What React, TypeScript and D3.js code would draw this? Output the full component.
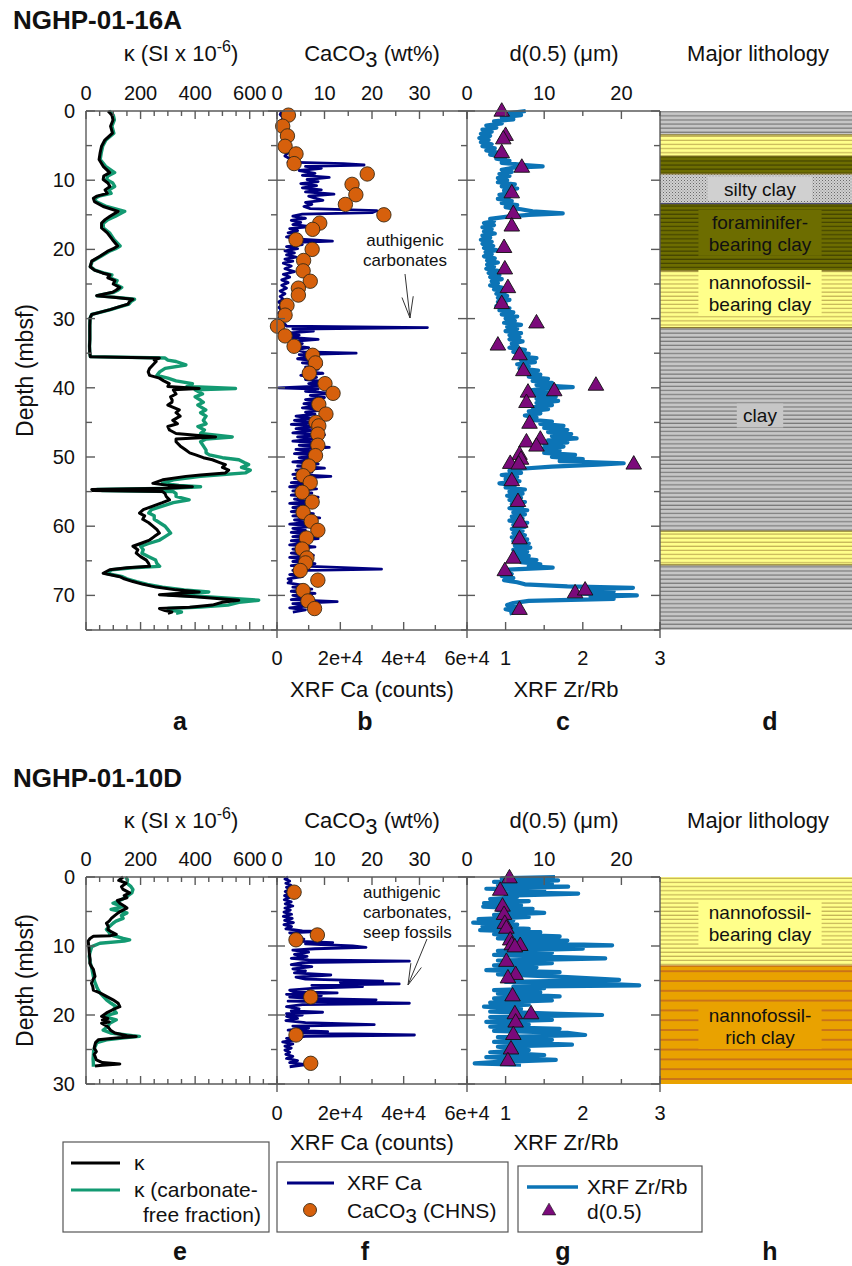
import React from 'react';
import * as d3 from 'd3';

const FONT = "'Liberation Sans', Arial, Helvetica, sans-serif";

// ---------------- DATA ----------------
// Site NGHP-01-16A : [depth (mbsf), value]
const kappa16A: [number, number][] = [
  [0,81],[0.6,95],[1.3,99],[2.2,90],[3.2,97],[4.2,69],[5.1,57],[6.0,52],[7.0,48],[8.0,63],[8.9,87],[9.4,65],[9.9,63],[10.4,80],[10.9,88],[11.4,70],[11.9,78],[12.3,40],[12.6,27],[13.1,31],[13.8,63],[14.5,118],[15.2,88],[15.7,70],[16.2,57],[16.9,57],[17.6,78],[18.6,97],[19.5,116],[19.9,100],[20.3,78],[21.0,51],[21.7,21],[22.5,15],[23.0,31],[23.4,60],[23.7,88],[24.1,80],[24.5,106],[25.0,100],[25.5,124],[25.9,110],[26.2,97],[26.5,60],[26.7,39],[26.9,100],[27.2,172],[27.5,160],[27.9,154],[28.3,120],[28.7,88],[29.1,50],[29.4,21],[29.9,15],[31.0,14],[32.0,14],[33.0,14],[34.0,13],[35.0,14],[35.5,16],[35.7,269],[36.0,250],[36.2,257],[36.7,245],[37.2,233],[37.7,228],[38.2,233],[38.6,269],[39.0,285],[39.4,305],[39.8,300],[40.1,415],[40.3,320],[40.9,330],[41.3,310],[41.8,316],[42.1,315],[42.5,300],[43.2,342],[43.6,330],[44.1,345],[44.7,318],[45.2,335],[45.6,300],[46.1,306],[46.6,330],[47.1,475],[47.4,330],[47.8,330],[48.4,345],[49.0,366],[49.4,380],[49.7,402],[50.1,430],[50.4,463],[50.8,490],[51.1,511],[51.5,500],[51.9,523],[52.3,511],[52.6,420],[52.8,366],[53.3,281],[53.8,245],[54.1,300],[54.3,390],[54.5,300],[54.7,21],[54.85,25],[55.0,281],[55.3,290],[55.7,294],[56.2,306],[56.6,280],[57.1,245],[57.6,210],[58.1,196],[58.5,215],[59.0,208],[59.5,230],[60.0,245],[60.5,260],[61.0,269],[61.5,250],[62.0,233],[62.5,200],[62.9,172],[63.4,190],[63.9,184],[64.4,200],[64.9,221],[65.4,230],[65.8,233],[66.0,150],[66.3,87],[66.8,63],[67.3,124],[67.6,140],[68.0,172],[68.4,210],[68.8,257],[69.2,330],[69.5,415],[69.9,269],[70.2,400],[70.7,560],[71.0,500],[71.4,463],[71.7,380],[71.9,269],[72.2,290],[72.4,315],[72.6,300]
];
const kappaCF16A: [number, number][] = [
  [0,85],[0.6,100],[1.3,104],[2.2,95],[3.2,102],[4.2,73],[5.1,61],[6.0,56],[7.0,52],[8.0,72],[8.9,105],[9.4,80],[9.9,75],[10.4,98],[10.9,105],[11.4,84],[11.9,92],[12.3,48],[12.6,33],[13.1,37],[13.8,75],[14.5,142],[15.2,108],[15.7,80],[16.2,64],[16.9,63],[17.6,86],[18.6,103],[19.5,125],[19.9,108],[20.3,84],[21.0,55],[21.7,23],[22.5,16],[23.0,33],[23.4,64],[23.7,95],[24.1,87],[24.5,114],[25.0,106],[25.5,131],[25.9,116],[26.2,102],[26.5,63],[26.7,41],[26.9,104],[27.2,178],[27.5,166],[27.9,158],[28.3,123],[28.7,90],[29.1,51],[29.4,21],[29.9,15],[31.0,14],[32.0,14],[33.0,14],[34.0,13],[35.0,14],[35.5,16],[35.7,290],[36.0,300],[36.2,330],[36.7,366],[37.2,290],[37.7,270],[38.2,260],[38.6,300],[39.0,330],[39.4,390],[39.8,370],[40.1,548],[40.3,400],[40.9,427],[41.3,400],[41.8,420],[42.1,430],[42.5,410],[43.2,439],[43.6,420],[44.1,440],[44.7,430],[45.2,440],[45.6,410],[46.1,434],[46.6,420],[47.1,536],[47.4,440],[47.8,420],[48.4,430],[49.0,440],[49.4,440],[49.7,452],[50.1,500],[50.4,560],[50.8,580],[51.1,596],[51.5,570],[51.9,602],[52.3,584],[52.6,480],[52.8,420],[53.3,320],[53.8,280],[54.1,340],[54.3,420],[54.5,330],[54.7,40],[54.85,60],[55.0,320],[55.3,330],[55.7,330],[56.2,378],[56.6,320],[57.1,280],[57.6,240],[58.1,230],[58.5,250],[59.0,250],[59.5,270],[60.0,290],[60.5,300],[61.0,310],[61.5,290],[62.0,270],[62.5,230],[62.9,200],[63.4,210],[63.9,205],[64.4,230],[64.9,255],[65.4,260],[65.8,270],[66.0,170],[66.3,95],[66.8,72],[67.3,134],[67.6,150],[68.0,185],[68.4,225],[68.8,280],[69.2,360],[69.5,450],[69.9,300],[70.2,440],[70.7,633],[71.0,560],[71.4,520],[71.7,420],[71.9,300],[72.2,320],[72.4,350],[72.6,330]
];
const xrfCa16A: [number, number][] = [
  [0.0,1500],[0.5,1000],[1.0,2000],[1.5,1200],[2.0,1800],[2.5,1000],[3.0,2200],[3.5,1500],[4.0,2500],[4.5,1800],[5.0,3000],[5.5,2200],[6.0,3500],[6.5,2500],[7.0,4500],[7.4,3500],[7.6,21000],[7.8,27500],[8.0,9000],[8.3,14000],[8.6,7000],[9.0,12000],[9.3,8000],[9.6,16500],[9.9,9500],[10.2,13000],[10.5,7500],[10.8,12500],[11.1,8000],[11.4,14000],[11.7,9000],[12.0,18000],[12.3,10000],[12.6,12000],[12.9,14500],[13.2,9000],[13.5,11000],[13.8,8500],[14.1,10500],[14.4,31500],[14.7,30000],[14.9,8000],[15.2,5000],[15.5,9000],[15.8,4500],[16.1,7500],[16.4,5000],[16.7,10500],[17.0,4000],[17.3,6500],[17.6,3500],[17.9,7000],[18.2,3000],[18.5,6000],[18.8,17500],[19.0,4500],[19.3,8000],[19.6,3000],[19.9,6500],[20.2,2500],[20.5,5500],[20.8,3000],[21.1,6000],[21.4,2500],[21.7,5000],[22.0,2000],[22.4,4500],[22.8,2500],[23.2,5500],[23.6,2000],[24.0,4000],[24.4,1500],[24.8,3500],[25.2,1500],[25.6,3000],[26.0,1000],[26.4,2500],[26.8,1000],[27.2,2000],[27.6,500],[28.0,1500],[28.4,600],[28.8,1500],[29.2,500],[29.6,1200],[30.0,400],[30.4,1000],[30.8,2500],[31.1,3000],[31.3,47500],[31.5,5000],[31.8,11500],[32.1,3000],[32.4,7000],[32.7,4000],[33.0,13000],[33.3,5000],[33.6,8000],[33.9,4500],[34.2,10000],[34.5,6000],[34.8,8500],[35.0,25000],[35.2,7000],[35.5,11000],[35.8,6500],[36.1,12000],[36.4,8000],[36.7,14000],[37.0,9000],[37.3,13000],[37.6,8500],[37.9,14500],[38.2,7500],[38.5,12500],[38.8,9000],[39.1,15000],[39.4,10000],[39.7,16500],[40.0,500],[40.2,13000],[40.5,9000],[40.8,17000],[41.1,10500],[41.4,15000],[41.7,9000],[42.0,14000],[42.3,8500],[42.6,13000],[42.9,8000],[43.2,15000],[43.5,9000],[43.8,12000],[44.1,6000],[44.4,11000],[44.7,5500],[45.0,12000],[45.3,4500],[45.6,13500],[45.9,6000],[46.2,11000],[46.5,5000],[46.8,15000],[47.1,6500],[47.4,12000],[47.7,5000],[48.0,14000],[48.3,7000],[48.6,16500],[48.9,6000],[49.2,12000],[49.5,5500],[49.8,14000],[50.1,7000],[50.4,11500],[50.7,5000],[51.0,13000],[51.3,6500],[51.6,15000],[51.9,6000],[52.2,11000],[52.5,5000],[52.8,17000],[53.1,5500],[53.4,12000],[53.7,4500],[54.0,10500],[54.3,4000],[54.6,12500],[54.9,5000],[55.2,11000],[55.5,4500],[55.8,13000],[56.1,5500],[56.4,10000],[56.7,4000],[57.0,12000],[57.3,5000],[57.6,9500],[57.9,4500],[58.2,11500],[58.5,5000],[58.8,13500],[59.1,5500],[59.4,10000],[59.7,4000],[60.0,12500],[60.3,5000],[60.6,9000],[60.9,4500],[61.2,11000],[61.5,5000],[61.8,13000],[62.1,4500],[62.4,10000],[62.7,4000],[63.0,12000],[63.3,5000],[63.6,9500],[63.9,4500],[64.2,11500],[64.5,4000],[64.8,10000],[65.1,5000],[65.4,12000],[65.7,4500],[66.0,21000],[66.2,33000],[66.4,5000],[66.7,9000],[67.0,4000],[67.3,8000],[67.6,3500],[67.9,4500],[68.2,3500],[68.5,8000],[68.8,5000],[69.1,11000],[69.4,4500],[69.7,12000],[70.0,5000],[70.3,9500],[70.6,4500],[70.9,19000],[71.2,5000],[71.5,10000],[71.8,4000],[72.1,9000],[72.4,5000]
];
const caco316A: [number, number][] = [
  [0.6,2.4],[2.2,1.2],[3.6,2.2],[5.1,1.7],[6.2,4.0],[7.6,3.6],[9.1,19.0],[10.6,15.8],[12.1,16.6],[13.5,14.4],[15.0,22.5],[16.2,9.0],[17.1,7.5],[18.6,4.0],[20.0,7.4],[21.6,5.6],[23.1,5.5],[24.6,7.0],[25.6,4.5],[26.6,4.5],[28.1,2.1],[29.5,1.7],[31.1,0.1],[32.5,1.7],[34.0,3.6],[35.3,7.5],[36.4,8.1],[37.9,6.8],[39.4,10.1],[40.8,11.8],[42.4,8.8],[43.8,10.3],[45.0,8.2],[45.5,8.8],[46.7,8.6],[48.3,8.6],[49.8,8.1],[51.3,6.7],[52.7,5.5],[53.7,7.0],[55.1,5.3],[56.5,7.4],[58.0,5.5],[59.3,7.2],[60.6,8.6],[61.7,6.2],[63.3,5.3],[64.6,6.3],[65.3,6.0],[66.4,4.9],[67.8,8.6],[69.3,5.5],[70.8,6.5],[71.9,7.9]
];
const zrRb16A: [number, number][] = [
  [0.0,1.26],[0.3,1.05],[0.6,1.2],[0.9,0.95],[1.2,1.1],[1.5,0.85],[1.8,0.95],[2.1,0.75],[2.4,0.88],[2.7,0.7],[3.0,0.82],[3.3,0.68],[3.6,0.8],[3.9,0.66],[4.2,0.78],[4.5,0.68],[4.8,0.82],[5.1,0.7],[5.4,0.86],[5.7,0.75],[6.0,0.9],[6.3,0.8],[6.6,1.0],[6.9,0.88],[7.2,1.05],[7.5,0.95],[7.8,1.25],[8.0,1.48],[8.2,1.1],[8.5,0.95],[8.8,1.08],[9.1,0.92],[9.4,1.05],[9.7,0.9],[10.0,1.02],[10.3,0.9],[10.6,1.12],[10.9,0.95],[11.2,1.15],[11.5,0.98],[11.8,1.1],[12.1,0.92],[12.4,1.05],[12.7,0.9],[13.0,1.08],[13.3,0.95],[13.6,1.15],[13.9,1.0],[14.2,1.2],[14.5,1.35],[14.8,1.74],[15.0,1.3],[15.3,1.0],[15.6,0.8],[15.9,0.85],[16.2,0.72],[16.5,0.85],[16.8,0.7],[17.1,0.82],[17.4,0.72],[17.7,0.86],[18.0,0.7],[18.3,0.8],[18.6,0.68],[18.9,0.82],[19.2,0.7],[19.5,0.84],[19.8,0.72],[20.1,0.88],[20.4,0.74],[20.7,0.82],[21.0,0.72],[21.3,0.86],[21.6,0.76],[21.9,0.9],[22.2,0.76],[22.5,0.85],[22.8,0.75],[23.1,0.9],[23.4,0.78],[23.7,0.92],[24.0,0.8],[24.3,0.95],[24.6,0.82],[24.9,0.9],[25.2,0.8],[25.5,0.95],[25.8,0.85],[26.1,1.0],[26.4,0.88],[26.7,1.02],[27.0,0.9],[27.3,1.05],[27.6,0.9],[27.9,1.0],[28.2,0.88],[28.5,1.05],[28.8,0.92],[29.1,1.1],[29.4,0.95],[29.7,1.15],[30.0,1.0],[30.3,1.12],[30.6,0.98],[30.9,1.2],[31.2,1.02],[31.5,1.15],[31.8,1.0],[32.1,1.2],[32.4,1.05],[32.7,1.18],[33.0,1.05],[33.3,1.22],[33.6,1.08],[33.9,1.15],[34.2,1.05],[34.5,1.25],[34.8,1.1],[35.1,1.3],[35.4,1.15],[35.7,1.4],[36.0,1.2],[36.3,1.38],[36.6,1.15],[36.9,1.3],[37.2,1.18],[37.5,1.42],[37.8,1.25],[38.1,1.45],[38.4,1.3],[38.7,1.55],[39.0,1.35],[39.3,1.6],[39.6,1.4],[39.9,1.87],[40.1,1.5],[40.4,1.3],[40.7,1.6],[41.0,1.35],[41.3,1.65],[41.6,1.4],[41.9,1.68],[42.2,1.4],[42.5,1.6],[42.8,1.35],[43.1,1.55],[43.4,1.3],[43.7,1.45],[44.0,1.25],[44.3,1.4],[44.6,1.3],[44.9,1.6],[45.2,1.45],[45.5,1.75],[45.8,1.5],[46.1,1.8],[46.4,1.55],[46.7,1.85],[47.0,1.6],[47.3,1.92],[47.6,1.55],[47.9,1.8],[48.2,1.5],[48.5,1.75],[48.8,1.45],[49.1,1.7],[49.4,1.5],[49.7,1.9],[50.0,1.6],[50.3,2.0],[50.6,1.7],[50.9,2.53],[51.1,2.2],[51.4,1.6],[51.7,1.2],[52.0,1.05],[52.3,1.2],[52.6,0.95],[52.9,1.15],[53.2,1.0],[53.5,1.18],[53.8,0.92],[54.1,1.12],[54.4,1.0],[54.7,1.25],[55.0,1.05],[55.3,1.22],[55.6,1.02],[55.9,1.2],[56.2,1.05],[56.5,1.25],[56.8,1.08],[57.1,1.22],[57.4,1.05],[57.7,1.28],[58.0,1.1],[58.3,1.25],[58.6,1.08],[58.9,1.22],[59.2,1.05],[59.5,1.28],[59.8,1.1],[60.1,1.25],[60.4,1.08],[60.7,1.22],[61.0,1.1],[61.3,1.25],[61.6,1.08],[61.9,1.28],[62.2,1.1],[62.5,1.3],[62.8,1.12],[63.1,1.32],[63.4,1.1],[63.7,1.28],[64.0,1.1],[64.3,1.3],[64.6,1.15],[64.9,1.4],[65.2,1.2],[65.5,1.45],[65.8,1.3],[66.0,1.61],[66.3,1.0],[66.6,0.95],[66.9,1.08],[67.2,0.95],[67.5,1.1],[67.8,0.98],[68.1,1.15],[68.4,1.25],[68.7,1.8],[68.9,2.65],[69.1,2.0],[69.4,2.4],[69.7,1.9],[70.0,2.7],[70.2,2.1],[70.5,2.4],[70.8,1.3],[71.1,1.1],[71.4,1.02],[71.7,1.15],[72.0,1.0],[72.3,1.15],[72.6,1.05]
];
const d5016A: [number, number][] = [
  [0.1,4.5],[3.6,5.0],[4.1,4.7],[6.1,4.5],[8.2,7.1],[11.9,5.8],[14.9,6.0],[16.7,5.8],[19.8,4.8],[22.9,4.9],[25.6,5.3],[27.9,4.5],[30.7,9.0],[33.9,4.0],[35.3,6.8],[37.6,7.3],[39.7,16.7],[40.5,11.3],[40.7,7.9],[42.2,7.7],[45.2,8.1],[47.5,9.5],[47.9,7.7],[48.5,9.0],[49.7,6.8],[50.4,7.0],[51.0,5.6],[51.1,6.7],[51.1,21.6],[53.5,5.8],[56.5,6.6],[59.5,6.9],[61.9,6.8],[64.7,6.0],[66.5,4.9],[69.7,14.0],[69.3,15.3],[72.1,6.8]
];

// Site NGHP-01-10D
const kappa10D: [number, number][] = [
  [0.0,136],[0.5,120],[0.9,147],[1.4,130],[1.8,136],[2.3,160],[2.7,140],[3.0,150],[3.4,115],[3.8,124],[4.2,140],[4.5,150],[4.9,130],[5.2,118],[5.6,105],[6.0,93],[6.4,85],[6.7,75],[7.2,82],[7.6,80],[8.0,95],[8.3,111],[8.5,90],[8.6,27],[8.9,15],[9.3,8],[10.0,10],[11.0,12],[12.0,15],[12.5,14],[13.0,20],[13.4,27],[13.9,30],[14.4,33],[14.9,25],[15.4,20],[15.9,25],[16.4,27],[16.8,51],[17.3,75],[17.8,99],[18.3,118],[18.8,124],[19.2,100],[19.7,75],[20.2,57],[20.5,80],[20.7,60],[21.0,85],[21.2,57],[21.7,80],[22.2,90],[22.6,106],[23.0,150],[23.1,184],[23.3,120],[23.6,45],[24.0,35],[24.3,33],[24.8,30],[25.3,38],[25.7,30],[26.0,33],[26.5,38],[26.9,60],[27.1,124],[27.3,60],[27.4,33]
];
const kappaCF10D: [number, number][] = [
  [0.0,145],[0.4,152],[0.9,150],[1.4,165],[1.8,172],[2.3,168],[2.8,150],[3.3,130],[3.8,99],[4.3,136],[4.7,92],[5.2,150],[5.6,130],[6.0,136],[6.4,110],[6.7,99],[7.2,85],[7.6,75],[8.0,85],[8.4,87],[8.7,120],[8.9,136],[9.1,160],[9.3,140],[9.6,51],[10.1,21],[11.0,14],[11.5,12],[12.5,16],[13.0,20],[13.8,24],[14.4,27],[15.2,32],[15.9,39],[16.4,45],[16.8,51],[17.3,63],[17.8,75],[18.3,92],[18.8,111],[19.2,100],[19.7,111],[20.2,63],[20.7,111],[21.2,87],[21.7,80],[22.2,63],[22.6,90],[23.0,170],[23.1,196],[23.3,140],[23.6,75],[24.0,40],[24.6,33],[25.2,28],[25.8,27],[26.4,26],[27.0,27],[27.5,27]
];
const xrfCa10D: [number, number][] = [
  [0.0,3500],[0.3,2500],[0.6,4000],[0.9,2800],[1.2,4400],[1.5,3000],[1.8,4200],[2.1,2600],[2.4,4000],[2.7,2400],[3.0,3800],[3.3,2300],[3.6,4500],[3.9,2600],[4.2,5000],[4.5,2500],[4.8,4200],[5.1,2200],[5.4,4600],[5.7,2000],[6.0,4800],[6.3,2400],[6.6,5200],[6.9,2200],[7.2,4600],[7.5,2800],[7.8,8000],[7.9,12300],[8.1,4000],[8.4,7000],[8.7,4500],[9.0,8500],[9.3,5500],[9.5,17600],[9.7,9000],[10.0,23900],[10.2,28100],[10.4,12000],[10.6,5000],[10.9,10000],[11.2,5500],[11.5,9500],[11.8,4500],[12.0,10000],[12.2,41800],[12.4,8000],[12.7,4500],[13.0,11000],[13.3,5000],[13.6,9000],[13.9,5500],[14.2,17000],[14.5,6000],[14.8,9000],[15.1,33400],[15.3,20000],[15.5,38600],[15.7,11000],[15.9,27000],[16.1,12000],[16.4,4000],[16.6,5000],[16.8,19000],[17.0,3000],[17.2,14000],[17.4,4000],[17.6,10000],[17.8,31300],[18.0,3500],[18.3,41800],[18.5,8000],[18.8,3000],[19.1,7000],[19.4,4500],[19.6,14400],[19.8,3000],[20.0,8000],[20.2,3000],[20.5,6500],[20.8,2800],[21.1,9000],[21.4,30700],[21.6,5000],[21.9,10000],[22.2,3500],[22.4,16000],[22.6,4500],[22.9,43400],[23.1,9000],[23.4,3000],[23.6,6000],[23.9,1800],[24.2,5000],[24.5,2500],[24.8,4500],[25.1,2500],[25.4,4000],[25.7,2800],[26.0,5000],[26.3,3000],[26.6,6500],[26.9,4000],[27.2,9200],[27.5,4000]
];
const caco310D: [number, number][] = [
  [2.2,3.6],[8.4,8.5],[9.1,4.0],[17.4,7.1],[22.9,4.0],[27.0,7.1]
];
const zrRb10D: [number, number][] = [
  [0.0,1.64],[0.2,0.95],[0.5,1.68],[0.7,0.85],[1.0,1.6],[1.2,0.9],[1.4,1.81],[1.7,0.75],[1.9,1.5],[2.2,0.9],[2.4,1.94],[2.7,1.0],[2.9,1.15],[3.2,0.8],[3.5,1.3],[3.8,0.72],[4.1,1.2],[4.3,0.71],[4.6,1.35],[4.8,0.9],[5.2,1.5],[5.5,0.85],[5.8,1.3],[6.1,0.65],[6.3,1.1],[6.6,0.58],[6.9,1.15],[7.2,0.7],[7.5,1.3],[7.7,0.67],[8.0,1.45],[8.3,0.85],[8.6,1.7],[8.9,0.9],[9.2,1.8],[9.5,1.0],[9.9,2.38],[10.1,1.1],[10.4,2.0],[10.7,0.9],[11.0,1.6],[11.3,0.85],[11.6,1.7],[11.8,2.29],[12.1,0.9],[12.5,1.6],[12.8,0.85],[13.1,1.4],[13.5,0.75],[13.8,1.7],[14.1,0.9],[14.5,1.8],[14.9,2.47],[15.2,1.0],[15.5,2.3],[15.7,2.73],[15.9,1.1],[16.1,1.5],[16.4,0.85],[16.7,1.45],[16.9,0.9],[17.3,1.7],[17.6,0.85],[17.9,1.6],[18.2,0.8],[18.5,1.3],[18.8,0.72],[19.1,1.2],[19.5,0.8],[19.8,1.6],[20.0,2.25],[20.3,0.8],[20.7,1.6],[21.0,0.75],[21.4,1.3],[21.7,0.8],[22.0,1.7],[22.3,0.85],[22.6,1.8],[22.9,2.03],[23.2,0.9],[23.6,1.6],[23.9,0.85],[24.3,1.86],[24.6,0.9],[25.1,1.3],[25.4,0.8],[25.8,1.5],[26.1,0.75],[26.5,1.65],[26.8,0.9],[27.0,0.6],[27.2,1.2]
];
const d5010D: [number, number][] = [
  [0.2,5.5],[2.0,4.3],[4.3,4.6],[5.5,4.8],[6.8,4.9],[7.5,5.1],[9.2,5.6],[9.9,5.8],[10.0,6.9],[10.2,6.2],[12.3,5.1],[14.2,6.3],[14.7,5.3],[17.3,5.9],[19.9,6.2],[19.9,8.3],[21.1,6.3],[22.9,6.0],[25.0,5.7],[26.7,5.3]
];

// Lithology intervals [top, bottom, type]
const litho16A: [number, number, string][] = [
  [0, 3.45, 'clay'], [3.45, 6.5, 'nanno'], [6.5, 9.1, 'foram'], [9.1, 13.4, 'silty'],
  [13.4, 23.1, 'foram'], [23.1, 31.3, 'nanno'], [31.3, 60.7, 'clay'], [60.7, 65.6, 'nanno'], [65.6, 75, 'clay']
];
const lithoLabels16A: [number, string[], string][] = [
  [11.25, ['silty clay'], 'silty'], [17.6, ['foraminifer-', 'bearing clay'], 'foram'],
  [26.3, ['nannofossil-', 'bearing clay'], 'nanno'], [44.0, ['clay'], 'clay']
];
const litho10D: [number, number, string][] = [[0, 12.9, 'nanno'], [12.9, 30, 'rich']];
const lithoLabels10D: [number, string[], string][] = [
  [6.7, ['nannofossil-', 'bearing clay'], 'nanno'], [21.6, ['nannofossil-', 'rich clay'], 'rich']
];

// Tick labels
const kappaTickLabels = [0, 200, 400, 600];
const caco3TickLabels = [0, 10, 20, 30];
const d50TickLabels = [0, 10, 20];
const caTickValues = [0, 20000, 40000, 60000];
const caTickLabels = ['0', '2e+4', '4e+4', '6e+4'];
const zrTickLabels = [1, 2, 3];

// ---------------- STYLE ----------------
const C = {
  axis: '#5a5a5a', kappa: '#000000', kappaCF: '#139a72', ca: '#000080',
  caco3: '#d6600c', zr: '#0c74b6', d50: '#7b0a7b'
};
const LITHO: Record<string, { fill: string; line: string }> = {
  clay: { fill: '#c6c6c6', line: '#6a6a6a' },
  nanno: { fill: '#ffff8a', line: '#b8a24c' },
  foram: { fill: '#6d6d00', line: '#3a3a00' },
  silty: { fill: '#d0d0d0', line: '#6a6a6a' },
  rich: { fill: '#e9a200', line: '#b24e2a' },
};

const XA: [number, number] = [86, 277];
const XB: [number, number] = [277, 467];
const XC: [number, number] = [467, 660];
const XD: [number, number] = [660, 852];

const kapX = d3.scaleLinear().domain([0, 700]).range(XA);
const caco3X = d3.scaleLinear().domain([0, 40]).range(XB);
const caX = d3.scaleLinear().domain([0, 60000]).range(XB);
const d50X = d3.scaleLinear().domain([0, 25]).range(XC);
const zrX = d3.scaleLinear().domain([0.5, 3]).range(XC);

type SectionProps = {
  id: string; header: string; headerY: number; titleY: number; topTickY: number;
  y0: number; y1: number; maxDepth: number; botTickY: number; xlabelY: number; letterY: number;
  letters: string[];
  kappa: [number, number][]; kappaCF: [number, number][]; ca: [number, number][];
  caco3: [number, number][]; zr: [number, number][]; d50: [number, number][];
  litho: [number, number, string][]; lithoLabels: [number, string[], string][];
  note: { lines: string[]; x: number; y: number; anchor: string; arrow: [number, number, number, number] };
};

function Section(p: SectionProps) {
  const y = d3.scaleLinear().domain([0, p.maxDepth]).range([p.y0, p.y1]);
  const mk = (xs: d3.ScaleLinear<number, number>) =>
    d3.line<[number, number]>().x(d => xs(d[1])).y(d => y(d[0]));
  const dTicks = d3.range(0, p.maxDepth + 0.01, 5);
  const els: React.ReactNode[] = [];
  const ax = { stroke: C.axis, strokeWidth: 1.4 };

  // lithology
  p.litho.forEach(([t, b, k], i) => {
    els.push(<rect key={'lf' + i} x={XD[0]} y={y(t)} width={XD[1] - XD[0]} height={y(b) - y(t)}
      fill={`url(#pat-${k})`} />);
  });
  p.litho.forEach(([t, b, k], i) => {
    if (i > 0) els.push(<line key={'lb' + i} x1={XD[0]} x2={XD[1]} y1={y(t)} y2={y(t)}
      stroke={k === 'rich' ? '#b04a20' : (k === 'foram' && p.litho[i - 1][2] === 'silty') ? '#2a2a6a' : '#8a7a30'} strokeWidth={1.2} />);
  });
  p.lithoLabels.forEach(([dep, lines, k], i) => {
    const yc = y(dep);
    const lh = 22;
    const w = Math.max(...lines.map(s => s.length)) * 9.6 + 8;
    const h = lines.length * lh + 2;
    const cx = 760;
    els.push(<rect key={'lr' + i} x={cx - w / 2} y={yc - h / 2} width={w} height={h} fill={LITHO[k].fill} />);
    lines.forEach((s, j) => {
      els.push(<text key={'lt' + i + '_' + j} x={cx} y={yc - (lines.length - 1) * lh / 2 + j * lh + 7}
        textAnchor="middle" fontSize={19} fill="#111">{s}</text>);
    });
  });

  // data
  els.push(<path key="kcf" d={mk(kapX)(p.kappaCF) || ''} fill="none" stroke={C.kappaCF} strokeWidth={3.4} strokeLinejoin="round" />);
  els.push(<path key="k" d={mk(kapX)(p.kappa) || ''} fill="none" stroke={C.kappa} strokeWidth={3} strokeLinejoin="round" />);
  els.push(<path key="ca" d={mk(caX)(p.ca) || ''} fill="none" stroke={C.ca} strokeWidth={2.8} strokeLinejoin="round" />);
  els.push(<path key="zr" d={mk(zrX)(p.zr) || ''} fill="none" stroke={C.zr} strokeWidth={4.2} strokeLinejoin="round" />);
  p.caco3.forEach(([dep, v], i) => {
    els.push(<circle key={'cc' + i} cx={caco3X(v)} cy={y(dep)} r={7.2} fill={C.caco3} stroke="#3a2a14" strokeWidth={0.9} />);
  });
  const tri = d3.symbol().type(d3.symbolTriangle).size(105)() || '';
  p.d50.forEach(([dep, v], i) => {
    els.push(<path key={'dd' + i} d={tri} transform={`translate(${d50X(v)},${y(dep)})`} fill={C.d50} stroke="#111" strokeWidth={0.9} />);
  });

  // annotation
  const n = p.note;
  n.lines.forEach((s, i) => els.push(<text key={'nt' + i} x={n.x} y={n.y + i * 20} textAnchor={n.anchor as any} fontSize={17} fill="#111">{s}</text>));
  {
    const [x1, y1, x2, y2] = n.arrow;
    const ang = Math.atan2(y1 - y2, x1 - x2);
    const L = 22, sp = 0.26;
    els.push(<path key="arr" d={`M${x1},${y1}L${x2},${y2}M${x2 + L * Math.cos(ang - sp)},${y2 + L * Math.sin(ang - sp)}L${x2},${y2}L${x2 + L * Math.cos(ang + sp)},${y2 + L * Math.sin(ang + sp)}`}
      fill="none" stroke="#333" strokeWidth={1} />);
  }

  // axes lines
  [XA, XB, XC].forEach(([a, b], i) => {
    els.push(<line key={'ta' + i} x1={a} x2={b} y1={p.y0} y2={p.y0} {...ax} />);
    els.push(<line key={'ba' + i} x1={a} x2={b} y1={p.y1} y2={p.y1} {...ax} />);
  });
  [XA[0], XB[0], XC[0], XD[0]].forEach((x, i) => {
    els.push(<line key={'va' + i} x1={x} x2={x} y1={p.y0} y2={p.y1 + (i > 0 ? 8 : 0)} {...ax} />);
  });
  // depth ticks
  dTicks.forEach((dv, i) => {
    const major = dv % 10 === 0;
    const yy = y(dv);
    els.push(<line key={'dl' + i} x1={XA[0]} x2={XA[0] + (major ? 9 : 6)} y1={yy} y2={yy} {...ax} />);
    [XB[0], XC[0]].forEach((x, j) => {
      els.push(<line key={'di' + i + '_' + j} x1={x - (major ? 9 : 6)} x2={x + (major ? 8 : 0)} y1={yy} y2={yy} {...ax} />);
    });
    els.push(<line key={'dd' + i} x1={XD[0] - (major ? 9 : 6)} x2={XD[0]} y1={yy} y2={yy} {...ax} />);
    if (major) els.push(<text key={'dt' + i} x={75} y={yy + 7} textAnchor="end" fontSize={20}>{dv}</text>);
  });
  // horizontal ticks
  const hTicks = (vals: number[], sc: (v: number) => number, isMajor: (v: number) => boolean, key: string, yLine: number, dir: number) =>
    vals.forEach((v, i) => {
      const x = sc(v);
      els.push(<line key={key + i} x1={x} x2={x} y1={yLine} y2={yLine + dir * (isMajor(v) ? 8 : 5)} {...ax} />);
    });
  const kapT = d3.range(0, 701, 50);
  const cc3T = d3.range(0, 40.01, 5);
  const d5T = d3.range(0, 25.01, 5);
  const caT = d3.range(0, 60001, 10000);
  const zrT = d3.range(0.5, 3.001, 0.5);
  hTicks(kapT, kapX, v => v % 200 === 0, 'tk', p.y0, 1);
  hTicks(kapT, kapX, v => v % 200 === 0, 'bk', p.y1, -1);
  hTicks(cc3T, caco3X, v => v % 10 === 0, 'tc', p.y0, 1);
  hTicks(d5T, d50X, v => v % 10 === 0, 'td', p.y0, 1);
  hTicks(caT, caX, v => v % 20000 === 0, 'bc', p.y1, -1);
  hTicks(zrT, zrX, v => Math.abs(v - Math.round(v)) < 1e-6, 'bz', p.y1, -1);

  // tick labels
  kappaTickLabels.forEach((v, i) => els.push(<text key={'kl' + i} x={kapX(v)} y={p.topTickY} textAnchor="middle" fontSize={20}>{v}</text>));
  caco3TickLabels.forEach((v, i) => els.push(<text key={'cl' + i} x={caco3X(v)} y={p.topTickY} textAnchor="middle" fontSize={20}>{v}</text>));
  d50TickLabels.forEach((v, i) => els.push(<text key={'dl2' + i} x={d50X(v)} y={p.topTickY} textAnchor="middle" fontSize={20}>{v}</text>));
  caTickValues.forEach((v, i) => els.push(<text key={'cal' + i} x={caX(v)} y={p.botTickY} textAnchor="middle" fontSize={20}>{caTickLabels[i]}</text>));
  zrTickLabels.forEach((v, i) => els.push(<text key={'zl' + i} x={zrX(v)} y={p.botTickY} textAnchor="middle" fontSize={20}>{v}</text>));

  // titles
  els.push(<text key="hdr" x={13} y={p.headerY} fontSize={26} fontWeight="bold">{p.header}</text>);
  els.push(<text key="t1" x={181} y={p.titleY} textAnchor="middle" fontSize={22}>κ (SI x 10<tspan dy={-9} fontSize={16}>-6</tspan><tspan dy={9}>)</tspan></text>);
  els.push(<text key="t2" x={372} y={p.titleY} textAnchor="middle" fontSize={22}>CaCO<tspan dy={6}>3</tspan><tspan dy={-6}> (wt%)</tspan></text>);
  els.push(<text key="t3" x={564} y={p.titleY} textAnchor="middle" fontSize={22}>d(0.5) (μm)</text>);
  els.push(<text key="t4" x={758} y={p.titleY} textAnchor="middle" fontSize={22}>Major lithology</text>);
  els.push(<text key="x2" x={372} y={p.xlabelY} textAnchor="middle" fontSize={22}>XRF Ca (counts)</text>);
  els.push(<text key="x3" x={566} y={p.xlabelY} textAnchor="middle" fontSize={22}>XRF Zr/Rb</text>);
  els.push(<text key="yl" transform={`translate(33,${(p.y0 + p.y1) / 2}) rotate(-90)`} textAnchor="middle" fontSize={23}>Depth (mbsf)</text>);
  [180, 365, 563, 770].forEach((x, i) => els.push(<text key={'lt' + i} x={x} y={p.letterY} textAnchor="middle" fontSize={25} fontWeight="bold">{p.letters[i]}</text>));

  return <g>{els}</g>;
}

function Patterns() {
  return (
    <defs>
      {Object.keys(LITHO).filter(k => k !== 'silty').map(k => (
        <pattern key={k} id={`pat-${k}`} patternUnits="userSpaceOnUse" width={20} height={k === 'rich' ? 9.8 : 4.1}>
          <rect width={20} height={10} fill={LITHO[k].fill} />
          <line x1={0} x2={20} y1={1} y2={1} stroke={LITHO[k].line} strokeWidth={k === 'rich' ? 1.1 : 1} />
        </pattern>
      ))}
      <pattern id="pat-silty" patternUnits="userSpaceOnUse" width={3} height={3}>
        <rect width={3} height={3} fill={LITHO.silty.fill} />
        <rect x={0} y={0} width={1} height={1} fill={LITHO.silty.line} />
        <rect x={1.5} y={1.5} width={1} height={1} fill="#8a8a8a" />
      </pattern>
    </defs>
  );
}

function Legend() {
  const f = 21;
  const tri = d3.symbol().type(d3.symbolTriangle).size(80)() || '';
  return (
    <g>
      <rect x={63} y={1142} width={206} height={90} fill="none" stroke="#555" strokeWidth={1.2} />
      <line x1={71} x2={120} y1={1163} y2={1163} stroke={C.kappa} strokeWidth={3} />
      <text x={134} y={1170} fontSize={f}>κ</text>
      <line x1={71} x2={120} y1={1190} y2={1190} stroke={C.kappaCF} strokeWidth={3} />
      <text x={134} y={1197} fontSize={f}>κ (carbonate-</text>
      <text x={143} y={1222} fontSize={f}>free fraction)</text>

      <rect x={277} y={1162} width={231} height={70} fill="none" stroke="#555" strokeWidth={1.2} />
      <line x1={287} x2={334} y1={1183} y2={1183} stroke={C.ca} strokeWidth={3} />
      <text x={347} y={1190} fontSize={f}>XRF Ca</text>
      <circle cx={310} cy={1210} r={6.5} fill={C.caco3} stroke="#3a2a14" strokeWidth={0.9} />
      <text x={347} y={1218} fontSize={f}>CaCO<tspan dy={5}>3</tspan><tspan dy={-5}> (CHNS)</tspan></text>

      <rect x={518} y={1166} width={184} height={66} fill="none" stroke="#555" strokeWidth={1.2} />
      <line x1={527} x2={578} y1={1187} y2={1187} stroke={C.zr} strokeWidth={3.5} />
      <text x={587} y={1194} fontSize={f}>XRF Zr/Rb</text>
      <path d={tri} transform="translate(549,1211)" fill={C.d50} stroke="#111" strokeWidth={0.6} />
      <text x={587} y={1219} fontSize={f}>d(0.5)</text>
    </g>
  );
}

export default function App() {
  return (
    <svg width={852} height={1266} viewBox="0 0 852 1266"
      style={{ position: 'absolute', left: 0, top: 0, background: '#fff' }}
      fontFamily={FONT} fill="#111">
      <Patterns />
      <rect width={852} height={1266} fill="#fff" />
      <Section id="a" header="NGHP-01-16A" headerY={29} titleY={61} topTickY={100}
        y0={111} y1={630} maxDepth={75} botTickY={665} xlabelY={697} letterY={730}
        letters={['a', 'b', 'c', 'd']}
        kappa={kappa16A} kappaCF={kappaCF16A} ca={xrfCa16A} caco3={caco316A} zr={zrRb16A} d50={d5016A}
        litho={litho16A} lithoLabels={lithoLabels16A}
        note={{ lines: ['authigenic', 'carbonates'], x: 405, y: 246, anchor: 'middle', arrow: [405, 274, 410, 318] }} />
      <Section id="b" header="NGHP-01-10D" headerY={787} titleY={828} topTickY={866}
        y0={877} y1={1084} maxDepth={30} botTickY={1120} xlabelY={1150} letterY={1260}
        letters={['e', 'f', 'g', 'h']}
        kappa={kappa10D} kappaCF={kappaCF10D} ca={xrfCa10D} caco3={caco310D} zr={zrRb10D} d50={d5010D}
        litho={litho10D} lithoLabels={lithoLabels10D}
        note={{ lines: ['authigenic', 'carbonates,', 'seep fossils'], x: 363, y: 898, anchor: 'start', arrow: [427, 939, 408, 985] }} />
      <Legend />
    </svg>
  );
}
